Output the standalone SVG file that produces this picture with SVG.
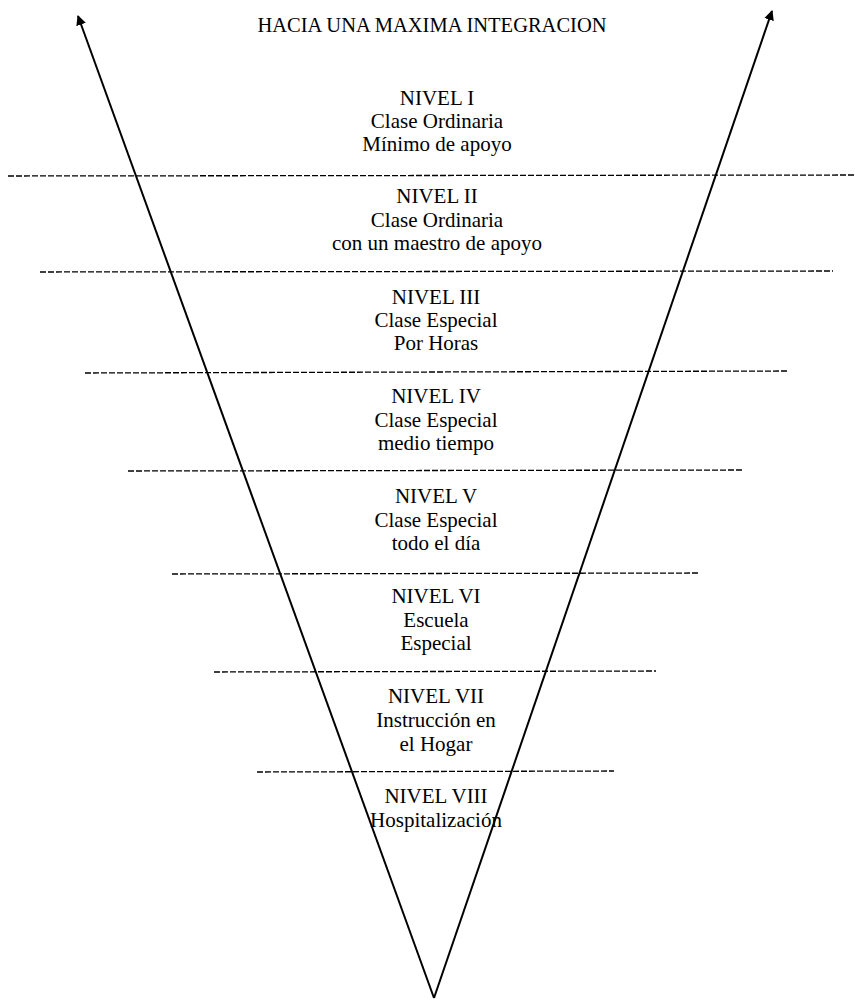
<svg xmlns="http://www.w3.org/2000/svg" width="855" height="1001" viewBox="0 0 855 1001">
<style>
text{font-family:"Liberation Serif","Times New Roman",serif;font-size:21px;fill:#000;text-anchor:middle}
.title{font-size:20.5px}
.dash{stroke:#000;stroke-width:1.3;stroke-dasharray:6,2;fill:none}
.arm{stroke:#000;stroke-width:2;fill:none}
</style>
<defs>
<marker id="ah" viewBox="0 0 10 10" refX="9" refY="5" markerWidth="10" markerHeight="10" markerUnits="userSpaceOnUse" orient="auto">
<path d="M0,0 L10,5 L0,10 z" fill="#000"/>
</marker>
</defs>
<rect width="855" height="1001" fill="#fff"/>
<g id="connectors">
<line class="arm" x1="434" y1="998" x2="78" y2="16" marker-end="url(#ah)"/>
<line class="arm" x1="434" y1="998" x2="772" y2="11" marker-end="url(#ah)"/>
<line class="dash" x1="8" y1="176" x2="855" y2="175"/>
<line class="dash" x1="40" y1="272" x2="833" y2="271"/>
<line class="dash" x1="85" y1="373" x2="787" y2="371"/>
<line class="dash" x1="128" y1="471" x2="743" y2="470"/>
<line class="dash" x1="172" y1="574" x2="699" y2="573"/>
<line class="dash" x1="214" y1="672" x2="656" y2="671"/>
<line class="dash" x1="257" y1="772" x2="614" y2="771"/>
</g>
<g id="title"><text class="title" x="432" y="32">HACIA UNA MAXIMA INTEGRACION</text></g>
<g id="n1"><text x="437" y="105">NIVEL I</text><text x="437" y="128">Clase Ordinaria</text><text x="437" y="151">Mínimo de apoyo</text></g>
<g id="n2"><text x="437" y="203">NIVEL II</text><text x="437" y="227">Clase Ordinaria</text><text x="437" y="250">con un maestro de apoyo</text></g>
<g id="n3"><text x="436" y="304">NIVEL III</text><text x="436" y="327">Clase Especial</text><text x="436" y="350">Por Horas</text></g>
<g id="n4"><text x="436" y="403">NIVEL IV</text><text x="436" y="427">Clase Especial</text><text x="436" y="450">medio tiempo</text></g>
<g id="n5"><text x="436" y="503">NIVEL V</text><text x="436" y="527">Clase Especial</text><text x="436" y="550">todo el día</text></g>
<g id="n6"><text x="436" y="603">NIVEL VI</text><text x="436" y="627">Escuela</text><text x="436" y="650">Especial</text></g>
<g id="n7"><text x="436" y="703">NIVEL VII</text><text x="436" y="727">Instrucción en</text><text x="436" y="751">el Hogar</text></g>
<g id="n8"><text x="436" y="803">NIVEL VIII</text><text x="436" y="827">Hospitalización</text></g>
</svg>
